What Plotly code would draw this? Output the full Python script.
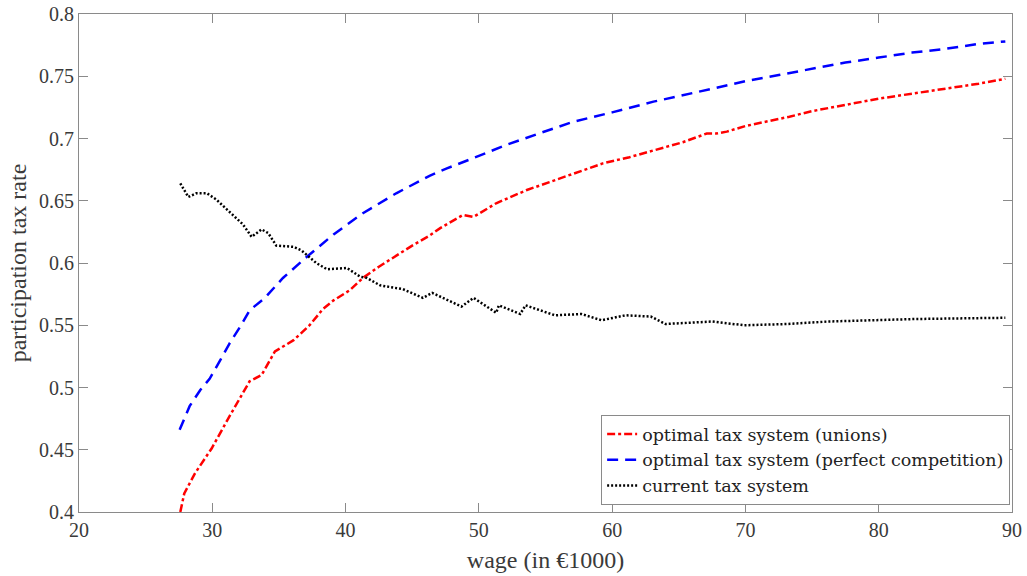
import plotly.graph_objects as go

# optimal tax system (unions)
x_unions = [27.6, 27.9, 28.7, 29.95, 31.3, 32.8, 33.7, 34.7, 36.1, 37.3, 38.3, 39.1, 40.3, 41.3,
            42.5, 43.8, 45.0, 46.3, 47.1, 48.8, 49.6, 51.3, 53.6, 55.3, 57.1, 59.3, 61.3, 63.3,
            65.3, 67.1, 67.8, 68.6, 70.0, 73.3, 75.0, 77.5, 80.0, 82.5, 85.0, 87.5, 89.5]
y_unions = [0.400, 0.415, 0.431, 0.451, 0.477, 0.505, 0.510, 0.529, 0.538, 0.550, 0.563, 0.570,
            0.578, 0.588, 0.597, 0.606, 0.614, 0.622, 0.628, 0.6386, 0.637, 0.648, 0.6586, 0.665,
            0.672, 0.680, 0.685, 0.691, 0.697, 0.704, 0.704, 0.7055, 0.710, 0.7175, 0.722, 0.727,
            0.732, 0.736, 0.740, 0.744, 0.748]

# optimal tax system (perfect competition)
x_perfect = [27.55, 28.3, 29.1, 29.8, 30.6, 31.3, 32.1, 32.8, 33.95, 35.3, 37.1, 39.1, 41.3, 43.8,
             46.3, 47.6, 50.0, 52.1, 54.5, 57.1, 60.0, 63.1, 65.0, 67.5, 70.0, 72.5, 75.0, 77.5,
             80.0, 82.5, 85.0, 87.5, 89.5]
y_perfect = [0.466, 0.485, 0.498, 0.507, 0.522, 0.5355, 0.549, 0.562, 0.572, 0.588, 0.605, 0.623,
             0.640, 0.656, 0.670, 0.676, 0.686, 0.695, 0.704, 0.7135, 0.721, 0.7296, 0.734, 0.740,
             0.746, 0.751, 0.756, 0.761, 0.765, 0.769, 0.772, 0.776, 0.778]

# current tax system
x_current = [27.6, 28.2, 28.8, 29.6, 30.3, 31.3, 32.3, 32.95, 33.7, 34.2, 34.8, 36.1, 36.7, 37.8,
             38.6, 40.1, 41.1, 41.6, 42.6, 44.3, 45.8, 46.5, 48.7, 49.6, 51.3, 51.5, 53.1, 53.5,
             55.7, 57.7, 59.2, 61.0, 62.9, 64.0, 67.5, 69.9, 73.2, 76.2, 82.7, 89.5]
y_current = [0.664, 0.653, 0.656, 0.656, 0.651, 0.641, 0.631, 0.621, 0.627, 0.624, 0.614, 0.613,
             0.610, 0.600, 0.595, 0.596, 0.589, 0.588, 0.582, 0.579, 0.572, 0.576, 0.565, 0.572,
             0.560, 0.566, 0.559, 0.566, 0.558, 0.559, 0.554, 0.558, 0.557, 0.551, 0.553, 0.550,
             0.551, 0.553, 0.555, 0.556]

x_ticks = [20, 30, 40, 50, 60, 70, 80, 90]
y_ticks = [0.4, 0.45, 0.5, 0.55, 0.6, 0.65, 0.7, 0.75, 0.8]
y_ticklabels = ["0.4", "0.45", "0.5", "0.55", "0.6", "0.65", "0.7", "0.75", "0.8"]

FONT = "Liberation Serif"
LEGEND_FONT = "DejaVu Serif"
AXIS_GRAY = "#8a8a8a"
TEXT_GRAY = "#3a3a3a"

fig = go.Figure()
fig.add_trace(go.Scatter(x=x_unions, y=y_unions, mode="lines",
                         name="optimal tax system (unions)",
                         line=dict(color="#ff0000", width=2.5, dash="8px,3px,3px,3px")))
fig.add_trace(go.Scatter(x=x_perfect, y=y_perfect, mode="lines",
                         name="optimal tax system (perfect competition)",
                         line=dict(color="#0000ff", width=2.5, dash="11px,7px")))
fig.add_trace(go.Scatter(x=x_current, y=y_current, mode="lines",
                         name="current tax system",
                         line=dict(color="#000000", width=2.5, dash="2px,2px")))

axis_common = dict(showgrid=False, zeroline=False, showline=True, linecolor=AXIS_GRAY,
                   linewidth=1, mirror="ticks", ticks="inside", ticklen=9,
                   tickcolor=AXIS_GRAY, tickwidth=1, automargin=False,
                   tickfont=dict(family=FONT, size=20, color=TEXT_GRAY))

fig.update_xaxes(range=[20, 90], tickvals=x_ticks, ticktext=[str(v) for v in x_ticks],
                 title=dict(text="wage (in €1000)", standoff=11,
                            font=dict(family=FONT, size=24, color=TEXT_GRAY)),
                 **axis_common)
fig.update_yaxes(range=[0.4, 0.8], tickvals=y_ticks, ticktext=y_ticklabels,
                 title=dict(text="participation tax rate", standoff=5,
                            font=dict(family=FONT, size=24, color=TEXT_GRAY)),
                 **axis_common)

fig.update_layout(
    width=1027, height=576,
    margin=dict(l=79, r=15, t=14, b=64),
    plot_bgcolor="white", paper_bgcolor="white",
    legend=dict(x=0.998, xanchor="right", y=0.014, yanchor="bottom",
                bgcolor="white", bordercolor=AXIS_GRAY, borderwidth=1,
                font=dict(family=LEGEND_FONT, size=17.5, color="#222222"),
                tracegroupgap=0, itemwidth=30),
    showlegend=True,
)

# remove the default page margin so the figure sits at the window's top-left corner
fig.write_html("out.html", config={"displayModeBar": False},
               post_script="document.body.style.margin='0';document.body.style.overflow='hidden';")
